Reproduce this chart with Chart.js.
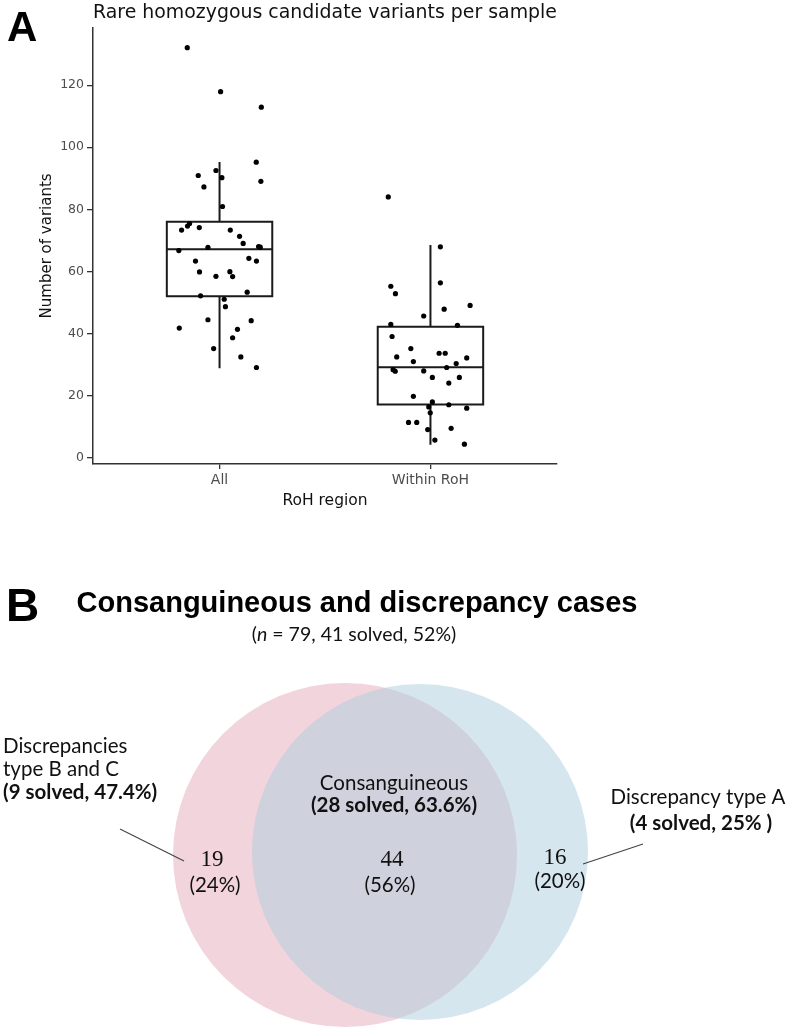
<!DOCTYPE html>
<html>
<head>
<meta charset="utf-8">
<script src="https://cdn.jsdelivr.net/npm/chart.js@4.4.1/dist/chart.umd.min.js"></script>
<style>
  body { margin: 0; background: #fff; }
  #page { position: relative; width: 788px; height: 1027px; overflow: hidden; }
  canvas { position: absolute; left: 0; }
  .panel { position: absolute; font-family: "Liberation Sans", Arial, sans-serif; font-weight: bold; line-height: 1; color: #000; }
  #titleB { position: absolute; left: 0; width: 714px; top: 588px; text-align: center;
            font: bold 29px/1 "Liberation Sans", Arial, sans-serif; color: #000; }
  #subB { position: absolute; left: 0; width: 708px; top: 623px; text-align: center;
          font: 19.5px/22px Lato, sans-serif; color: #111; }
</style>
</head>
<body>
<div id="page">
  <canvas id="chartA" width="788" height="520" style="top:0"></canvas>
  <canvas id="chartB" width="788" height="487" style="top:540px"></canvas>
  <div class="panel" style="left:7px; top:6px; font-size:42px">A</div>
  <div class="panel" style="left:6px; top:582px; font-size:46px">B</div>
  <div id="titleB">Consanguineous and discrepancy cases</div>
  <div id="subB"></div>
</div>

<script>
// ---- Panel A data ----
const categories = ["All", "Within RoH"];
const yTicks = [0, 20, 40, 60, 80, 100, 120];

// box stats
const boxQ1 = [52.0, 17.1];
const boxMedian = [67.1, 29.1];
const boxQ3 = [76.0, 42.1];
const whiskerLow = [29.1, 4.4];
const whiskerHigh = [94.9, 68.2];

// jittered sample points, x = category position + jitter
const allX = [0.847, 1.005, 1.198, 1.174, 0.899, 0.983, 1.011, 0.926, 1.196, 1.014,
              0.848, 0.858, 0.820, 0.904, 1.051, 1.095, 1.112, 1.185, 1.193, 0.807,
              0.945, 0.886, 1.139, 1.175, 0.905, 0.983, 1.049, 1.062, 1.131, 0.910,
              1.022, 1.028, 0.945, 1.150, 0.809, 1.085, 1.062, 0.972, 1.101, 1.175];
const allY = [132.1, 117.9, 112.9, 95.2, 90.9, 92.5, 90.2, 87.2, 89.0, 80.9,
              74.6, 75.4, 73.3, 74.1, 73.3, 71.3, 69.0, 68.0, 67.8, 66.7,
              67.7, 63.3, 64.2, 63.3, 59.8, 58.4, 59.9, 58.3, 53.3, 52.1,
              51.0, 48.6, 44.4, 44.1, 41.7, 41.3, 38.6, 35.1, 32.4, 29.0];
const rohX = [1.800, 2.047, 1.812, 1.834, 2.047, 2.065, 2.188, 1.968, 1.812, 2.128,
              1.818, 1.907, 1.840, 1.919, 2.041, 2.070, 2.172, 2.122, 2.077, 1.823,
              1.833, 1.968, 2.009, 2.137, 2.087, 1.919, 2.009, 2.087, 2.172, 1.992,
              1.999, 1.896, 1.935, 1.987, 2.098, 2.021, 2.161];
const rohY = [84.0, 67.9, 55.2, 52.8, 56.3, 47.8, 49.0, 45.6, 42.9, 42.6,
              39.0, 35.1, 32.4, 30.9, 33.6, 33.6, 32.1, 30.3, 29.0, 28.3,
              27.8, 27.9, 25.8, 25.8, 24.0, 19.7, 17.9, 17.0, 15.9, 16.3,
              14.4, 11.3, 11.3, 9.0, 9.4, 5.6, 4.3];

// ---- Panel B data ----
const vennCounts = [19, 44, 16];   // B&C only, overlap (consanguineous), type A only
const vennSolved = [9, 28, 4];
const vennNames = [["Discrepancies", "type B and C"], ["Consanguineous"], ["Discrepancy type A"]];

// ---------------- Panel A ----------------
const BOX_HALF = 0.25;
const GAP = { x: NaN, y: null };

function boxData(i) {
  const p = i + 1, l = p - BOX_HALF, r = p + BOX_HALF;
  return [
    { x: l, y: boxQ1[i] }, { x: r, y: boxQ1[i] }, { x: r, y: boxQ3[i] }, { x: l, y: boxQ3[i] }, { x: l, y: boxQ1[i] },
    GAP,
    { x: l, y: boxMedian[i] }, { x: r, y: boxMedian[i] },
    GAP,
    { x: p, y: boxQ3[i] }, { x: p, y: whiskerHigh[i] },
    GAP,
    { x: p, y: boxQ1[i] }, { x: p, y: whiskerLow[i] }
  ];
}

const pts = (xs, ys) => xs.map((x, i) => ({ x: x, y: ys[i] }));
const pointStyle = { pointRadius: 2.6, pointBackgroundColor: "#000", pointBorderWidth: 0, backgroundColor: "#000" };
const boxStyle = { showLine: true, pointRadius: 0, borderColor: "#1a1a1a", borderWidth: 2,
                   fill: false, spanGaps: false, tension: 0, borderJoinStyle: "miter", borderCapStyle: "square" };

const fontA = "'DejaVu Sans', 'Liberation Sans', sans-serif";

new Chart(document.getElementById("chartA"), {
  type: "scatter",
  data: {
    datasets: [
      Object.assign({ data: pts(allX, allY) }, pointStyle),
      Object.assign({ data: pts(rohX, rohY) }, pointStyle),
      Object.assign({ data: boxData(0) }, boxStyle),
      Object.assign({ data: boxData(1) }, boxStyle)
    ]
  },
  options: {
    responsive: false,
    animation: false,
    layout: { padding: { left: 0, right: 231, top: 0, bottom: 0 } },
    plugins: {
      legend: { display: false },
      tooltip: { enabled: false },
      title: {
        display: true,
        text: "Rare homozygous candidate variants per sample",
        align: "start",
        fullSize: false,
        color: "#111",
        font: { family: fontA, size: 19, weight: "normal" },
        padding: { top: 2, bottom: 3 }
      }
    },
    scales: {
      x: {
        type: "linear",
        min: 0.4,
        max: 2.6,
        afterBuildTicks: axis => { axis.ticks = categories.map((c, i) => ({ value: i + 1 })); },
        afterFit: axis => { axis.height = 56; },
        ticks: {
          callback: v => categories[Math.round(v) - 1],
          color: "#4d4d4d",
          font: { family: fontA, size: 14 },
          padding: 3,
          maxRotation: 0
        },
        grid: { drawOnChartArea: false, tickLength: 5, color: "#333", lineWidth: 1.3 },
        border: { color: "#333", width: 1.5 },
        title: { display: true, text: "RoH region", color: "#111",
                 font: { family: fontA, size: 15.5 }, padding: { top: 0, bottom: 10 } }
      },
      y: {
        min: -2.1,
        max: 138.5,
        afterBuildTicks: axis => { axis.ticks = yTicks.map(v => ({ value: v })); },
        afterFit: axis => { axis.width = 93; },
        ticks: { color: "#4d4d4d", font: { family: fontA, size: 12.5 }, padding: 3 },
        grid: { drawOnChartArea: false, tickLength: 6, color: "#333", lineWidth: 1.3 },
        border: { color: "#333", width: 1.5 },
        title: { display: true, text: "Number of variants", color: "#111",
                 font: { family: fontA, size: 15 }, padding: { top: 38, bottom: 0 } }
      }
    }
  }
});

// ---------------- Panel B ----------------
const total = vennCounts.reduce((a, b) => a + b, 0);
const totalSolved = vennSolved.reduce((a, b) => a + b, 0);
document.getElementById("subB").innerHTML =
  "(<i>n</i> = " + total + ", " + totalSolved + " solved, " + Math.round(totalSolved / total * 100) + "%)";

// circle geometry in page pixels (layout only, not area-proportional)
const vennCircles = [
  { x: 345, y: 855, r: 172, color: "rgb(242, 212, 220)" },
  { x: 420, y: 852, r: 168, color: "rgba(171, 205, 221, 0.5)" }
];
// label anchor points per region
const vennLayout = [
  { names: [[3, 746], [3, 769]], solved: [3, 792], align: "left", count: [212, 860], pct: [215, 885],
    leader: [[120, 829], [184, 861]], close: ")" },
  { names: [[394, 783]], solved: [394, 805], align: "center", count: [392, 860], pct: [390, 885],
    leader: null, close: ")" },
  { names: [[698, 797]], solved: [701, 823], align: "center", count: [555, 858], pct: [560, 881],
    leader: [[583, 864], [643, 844]], close: " )" }
];

const labelFont = "20.5px Lato, sans-serif";
const labelBold = "bold 20.5px Lato, sans-serif";

const vennText = {
  id: "vennText",
  afterDatasetsDraw(chart) {
    const { ctx, scales: { x, y } } = chart;
    const px = v => x.getPixelForValue(v), py = v => y.getPixelForValue(v);
    ctx.save();
    ctx.fillStyle = "#111";
    ctx.textBaseline = "middle";
    vennCounts.forEach((count, i) => {
      const L = vennLayout[i];
      ctx.textAlign = L.align;
      ctx.font = labelFont;
      vennNames[i].forEach((line, j) => ctx.fillText(line, px(L.names[j][0]), py(L.names[j][1])));
      const sp = +(vennSolved[i] / count * 100).toFixed(1);
      ctx.font = labelBold;
      ctx.fillText("(" + vennSolved[i] + " solved, " + sp + "%" + L.close, px(L.solved[0]), py(L.solved[1]));
      ctx.textAlign = "center";
      ctx.font = "23px 'Liberation Serif', serif";
      ctx.fillText(String(count), px(L.count[0]), py(L.count[1]));
      ctx.font = labelFont;
      ctx.fillText("(" + Math.round(count / total * 100) + "%)", px(L.pct[0]), py(L.pct[1]));
      if (L.leader) {
        ctx.strokeStyle = "#444";
        ctx.lineWidth = 1.2;
        ctx.beginPath();
        ctx.moveTo(px(L.leader[0][0]), py(L.leader[0][1]));
        ctx.lineTo(px(L.leader[1][0]), py(L.leader[1][1]));
        ctx.stroke();
      }
    });
    ctx.restore();
  }
};

// circle radius converted to pixels through the x scale
function circleRadius(ctx) {
  const s = ctx.chart.scales.x, c = vennCircles[ctx.dataIndex];
  if (!c || !s) return 0;
  const r = Math.abs(s.getPixelForValue(c.x + c.r) - s.getPixelForValue(c.x));
  return isFinite(r) ? r : 0;
}

new Chart(document.getElementById("chartB"), {
  type: "scatter",
  data: {
    datasets: [{
      data: vennCircles.map(c => ({ x: c.x, y: c.y })),
      pointBackgroundColor: vennCircles.map(c => c.color),
      pointBorderWidth: 0,
      pointRadius: circleRadius,
      pointHoverRadius: circleRadius,
      clip: false
    }]
  },
  options: {
    responsive: false,
    animation: false,
    events: [],
    layout: { padding: 0 },
    plugins: { legend: { display: false }, tooltip: { enabled: false } },
    scales: {
      x: { type: "linear", min: 0, max: 788, display: false },
      y: { type: "linear", min: 540, max: 1027, reverse: true, display: false }
    }
  },
  plugins: [vennText]
});
</script>
</body>
</html>
